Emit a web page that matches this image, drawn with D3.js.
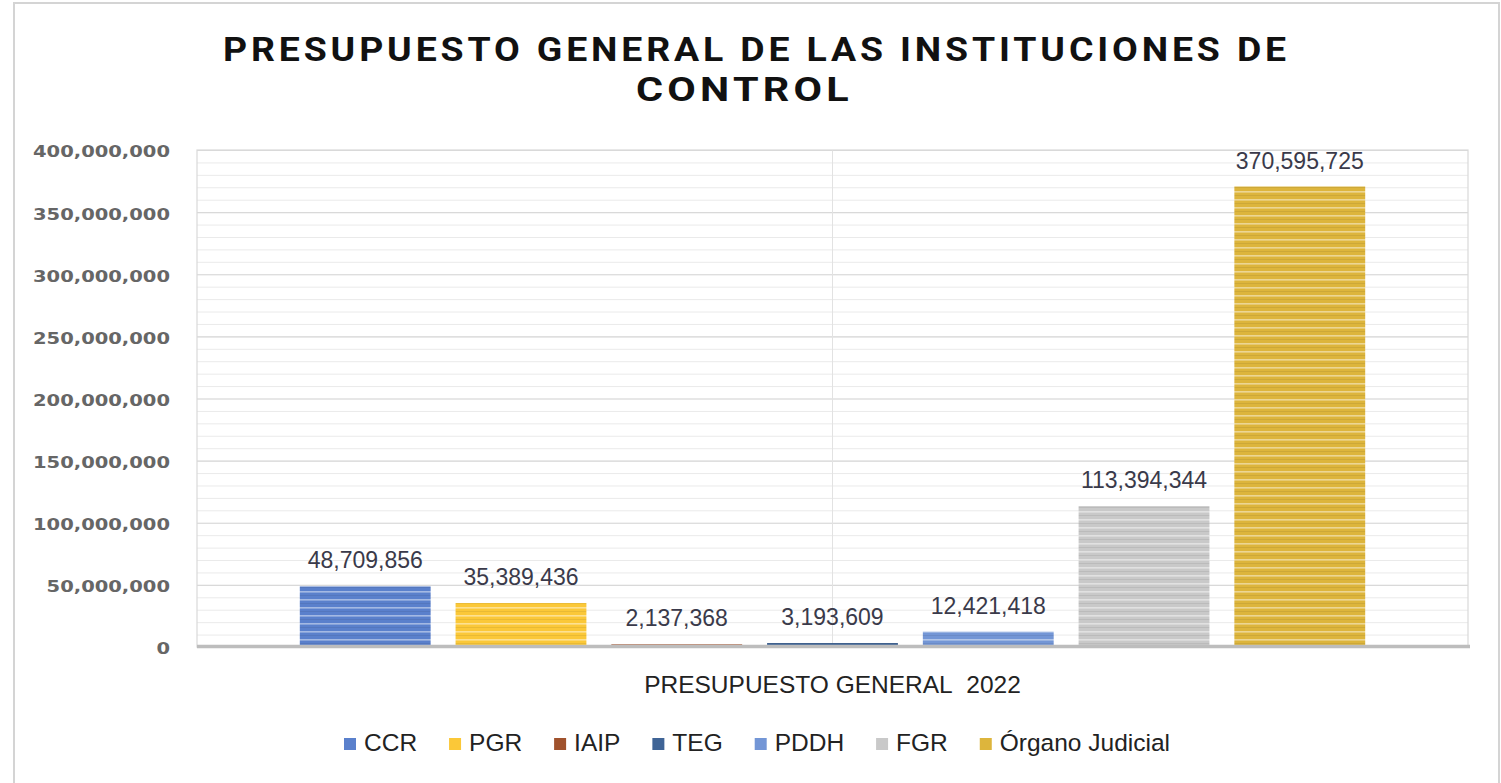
<!DOCTYPE html>
<html><head><meta charset="utf-8">
<script src="https://cdn.jsdelivr.net/npm/d3@7"></script>
<style>body{margin:0;background:#fff;}svg{display:block;}</style>
</head><body>
<svg id="c" width="1501" height="783"></svg>
<script>
const categories = ["CCR","PGR","IAIP","TEG","PDDH","FGR","Órgano Judicial"];
const values = [48709856,35389436,2137368,3193609,12421418,113394344,370595725];
const colors = ["#5A80CC","#FBC838","#A0522D","#3F6496","#7396D6","#C9C9C9","#DDB53C"];
const yTicks = [0,50000000,100000000,150000000,200000000,250000000,300000000,350000000,400000000];
const xAxisTitle = "PRESUPUESTO GENERAL\u00A0\u00A02022";
const titleLines = ["PRESUPUESTO GENERAL DE LAS INSTITUCIONES DE","CONTROL"];

const svg = d3.select("#c");
const m = {left:197, right:1468, top:150, bottom:647};
const fmt = d3.format(",");

// outer border
svg.append("rect").attr("x",14).attr("y",3).attr("width",1485).attr("height",790)
  .attr("fill","#fff").attr("stroke","#D4D4D4").attr("stroke-width",2);

// patterns
const defs = svg.append("defs");
colors.forEach((c,i)=>{
  const p = defs.append("pattern").attr("id","pat"+i).attr("patternUnits","userSpaceOnUse")
    .attr("width",10).attr("height",8).attr("y",m.bottom);
  p.append("rect").attr("width",10).attr("height",8).attr("fill",c);
  p.append("rect").attr("y",0).attr("width",10).attr("height",1.6).attr("fill","#fff").attr("opacity",0.45);
  p.append("rect").attr("y",4).attr("width",10).attr("height",1).attr("fill","#000").attr("opacity",0.07);
});

const y = d3.scaleLinear().domain([0,400000000]).range([m.bottom,m.top]);
const x = d3.scaleBand().domain(categories).range([m.left,m.right]).paddingInner(0.16).paddingOuter(0.66);

// minor gridlines
const minor = d3.range(0,400000001,10000000);
svg.append("g").selectAll("line").data(minor).join("line")
  .attr("x1",m.left).attr("x2",m.right).attr("y1",d=>y(d)+0.5).attr("y2",d=>y(d)+0.5)
  .attr("stroke","#EAEAEA").attr("stroke-width",1);
// major gridlines
svg.append("g").selectAll("line").data(yTicks).join("line")
  .attr("x1",m.left).attr("x2",m.right).attr("y1",d=>y(d)+0.5).attr("y2",d=>y(d)+0.5)
  .attr("stroke","#D9D9D9").attr("stroke-width",1.2);
// center vertical gridline
const cx = (m.left+m.right)/2;
svg.append("line").attr("x1",cx).attr("x2",cx).attr("y1",m.top).attr("y2",m.bottom)
  .attr("stroke","#E2E2E2");
// plot border
svg.append("rect").attr("x",m.left).attr("y",m.top).attr("width",m.right-m.left).attr("height",m.bottom-m.top)
  .attr("fill","none").attr("stroke","#D9D9D9").attr("stroke-width",1.2);

// bars
svg.append("g").selectAll("rect").data(values).join("rect")
  .attr("x",(d,i)=>x(categories[i])).attr("width",x.bandwidth())
  .attr("y",d=>y(d)).attr("height",d=>y(0)-y(d))
  .attr("fill",(d,i)=>"url(#pat"+i+")");

// x axis line
svg.append("line").attr("x1",m.left).attr("x2",m.right+2).attr("y1",y(0)-0.5).attr("y2",y(0)-0.5)
  .attr("stroke","#BDBDBD").attr("stroke-width",3.5);

// y axis
const yAxis = d3.axisLeft(y).tickValues(yTicks).tickFormat(d=>fmt(d)).tickSize(0).tickPadding(27);
const ga = svg.append("g").attr("transform",`translate(${m.left},2)`).call(yAxis);
ga.select(".domain").remove();
ga.selectAll("text").attr("font-family","'DejaVu Sans', sans-serif").attr("font-size",15.5)
  .attr("font-weight",700).attr("fill","#666");
let kY = 1;
ga.selectAll("text").each(function(d){ if(d===400000000){ kY = 137/this.getComputedTextLength(); }});
ga.selectAll("text").each(function(){
  const L = this.getComputedTextLength();
  d3.select(this).attr("textLength",L*kY).attr("lengthAdjust","spacingAndGlyphs");
});

// value labels
svg.append("g").selectAll("text").data(values).join("text")
  .attr("x",(d,i)=>x(categories[i])+x.bandwidth()/2)
  .attr("y",d=>y(d)-18)
  .attr("text-anchor","middle").attr("font-family","'Liberation Sans', Arial, sans-serif")
  .attr("font-size",23).attr("fill","#3A3A4A").text(d=>fmt(d));

// x axis title
svg.append("text").attr("x",cx).attr("y",693).attr("text-anchor","middle")
  .attr("font-family","'Liberation Sans', Arial, sans-serif").attr("font-size",24.5)
  .attr("fill","#222").text(xAxisTitle);

// title
svg.append("text").attr("x",223).attr("y",61).attr("textLength",1067).attr("lengthAdjust","spacingAndGlyphs")
  .attr("letter-spacing",3.5)
  .attr("font-family","Roboto, sans-serif").attr("font-weight",700).attr("font-size",34)
  .attr("fill","#111").text(titleLines[0]);
svg.append("text").attr("x",636).attr("y",101).attr("textLength",217).attr("lengthAdjust","spacingAndGlyphs")
  .attr("letter-spacing",3.5)
  .attr("font-family","Roboto, sans-serif").attr("font-weight",700).attr("font-size",34)
  .attr("fill","#111").text(titleLines[1]);

// legend
const lg = svg.append("g");
const items = lg.selectAll("g").data(categories).join("g");
items.append("rect").attr("width",12).attr("height",12).attr("y",-13).attr("fill",(d,i)=>colors[i]);
items.append("text").attr("x",20).attr("y",0).attr("font-family","'Liberation Sans', Arial, sans-serif")
  .attr("font-size",24.5).attr("fill","#222").text(d=>d);
const widths = [];
items.each(function(){ widths.push(20 + d3.select(this).select("text").node().getComputedTextLength()); });
const span = 826;
const gap = (span - d3.sum(widths)) / (categories.length-1);
let off = 0;
items.each(function(d,i){
  d3.select(this).attr("transform",`translate(${off},0)`);
  off += widths[i] + gap;
});
lg.attr("transform",`translate(344,751)`);
</script>
</body></html>
